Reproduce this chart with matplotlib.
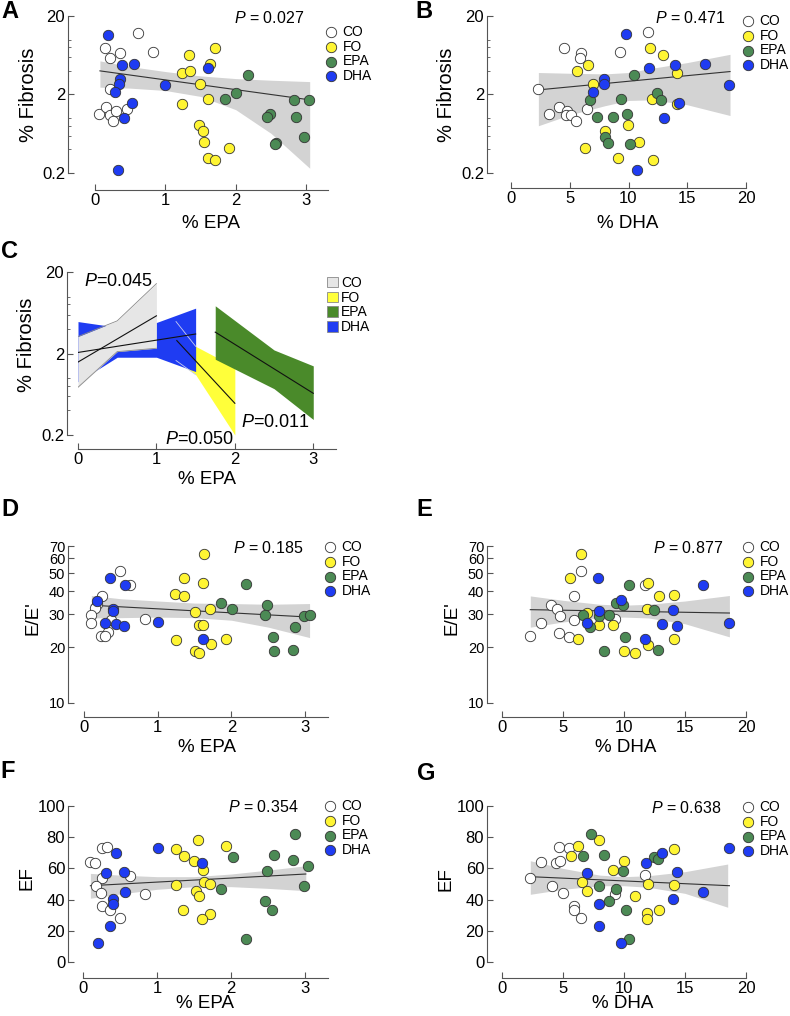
import matplotlib
matplotlib.use("Agg")
import matplotlib.pyplot as plt
from matplotlib.patches import Patch
from matplotlib.ticker import NullFormatter, NullLocator

plt.rcParams['font.family'] = ['Liberation Sans', 'DejaVu Sans']
plt.rcParams['mathtext.fontset'] = 'custom'
plt.rcParams['mathtext.it'] = 'Liberation Sans:italic'
plt.rcParams['mathtext.rm'] = 'Liberation Sans'

groups = ["CO", "FO", "EPA", "DHA"]
dot_colors = {"CO": "#ffffff", "FO": "#fff533", "EPA": "#4c8a55", "DHA": "#1f3cf2"}
band_colors = {"CO": "#e6e6e6", "FO": "#ffff3a", "EPA": "#4a8a2a", "DHA": "#1f3cf2"}

# ---- A: % fibrosis vs % EPA
a_x = dict(CO=[0.61, 0.14, 0.36, 0.22, 0.82, 0.21, 0.06, 0.16, 0.21, 0.30, 0.25, 0.46],
           FO=[1.71, 1.34, 1.63, 1.23, 1.35, 1.49, 1.60, 1.23, 1.48, 1.54, 1.55, 1.91, 1.60, 1.71],
           EPA=[2.18, 2.00, 1.85, 2.83, 3.04, 2.48, 2.44, 2.86, 2.97, 2.57, 2.56],
           DHA=[0.18, 0.38, 0.55, 0.36, 0.34, 0.28, 0.99, 0.53, 0.41, 0.33, 1.60])
a_y = dict(CO=[12.3, 7.9, 6.7, 5.9, 7.0, 2.34, 1.13, 1.37, 1.10, 1.22, 0.92, 1.31],
           FO=[7.9, 6.3, 4.9, 3.8, 4.0, 2.7, 1.75, 1.5, 0.82, 0.68, 0.49, 0.42, 0.31, 0.29],
           EPA=[3.5, 2.08, 1.75, 1.71, 1.69, 1.12, 1.03, 1.04, 0.57, 0.48, 0.47],
           DHA=[11.5, 4.7, 4.9, 3.16, 2.73, 2.18, 2.65, 1.58, 1.0, 0.22, 4.3])
a_fit_x = [0.07, 3.05]
a_fit_y = [4.0, 1.71]
a_band_x = [0.07, 0.5, 1, 1.5, 2, 2.5, 3.05]
a_band_hi = [5.36, 4.54, 3.92, 3.45, 3.19, 3.04, 2.92]
a_band_lo = [2.48, 2.41, 2.25, 1.89, 1.28, 0.64, 0.23]

# ---- B: % fibrosis vs % DHA
b_x = dict(CO=[11.69, 4.51, 5.93, 5.87, 9.28, 2.33, 4.11, 6.5, 3.23, 4.74, 4.68, 5.08, 5.53],
           FO=[11.83, 12.9, 6.52, 5.65, 14.16, 6.95, 11.97, 14.16, 9.93, 8.0, 10.92, 6.3, 9.13, 12.06],
           EPA=[10.5, 12.45, 6.72, 9.33, 12.74, 7.28, 8.71, 9.9, 8.0, 8.28, 10.13],
           DHA=[9.79, 16.51, 13.96, 11.77, 7.94, 7.94, 6.95, 18.58, 14.33, 13.05, 10.75])
b_y = dict(CO=[12.4, 7.9, 6.8, 5.8, 7.0, 2.34, 1.37, 1.31, 1.13, 1.22, 1.10, 1.10, 0.92],
           FO=[7.9, 6.3, 4.76, 4.0, 3.8, 2.7, 1.75, 1.5, 0.82, 0.68, 0.49, 0.42, 0.31, 0.29],
           EPA=[3.5, 2.08, 1.71, 1.75, 1.69, 1.04, 1.03, 1.12, 0.57, 0.48, 0.47],
           DHA=[11.7, 4.9, 4.7, 4.3, 3.16, 2.73, 2.18, 2.65, 1.58, 1.0, 0.22])
b_fit_x = [2.33, 18.64]
b_fit_y = [2.29, 3.92]
b_band_x = [2.33, 5, 8, 10, 12, 15, 18.64]
b_band_hi = [3.81, 3.73, 3.66, 3.81, 4.32, 5.1, 6.5]
b_band_lo = [0.80, 1.10, 1.44, 1.68, 1.71, 1.48, 1.08]

# ---- C: per-group fits of % fibrosis vs % EPA
c_co_x = [0, 0.5, 1]
c_co_lo = [0.77, 2.11, 2.32]
c_co_hi = [3.23, 5.03, 14.4]
c_dha_x = [0, 0.5, 1, 1.5]
c_dha_lo = [0.9, 1.80, 1.80, 1.2]
c_dha_hi = [4.93, 4.2, 4.8, 7.2]
c_fo_x = [1.25, 1.5, 1.75, 2]
c_fo_lo = [1.64, 1.1, 0.47, 0.2]
c_fo_hi = [4.93, 2.45, 1.83, 1.36]
c_epa_x = [1.75, 2.5, 3]
c_epa_lo = [1.70, 0.74, 0.31]
c_epa_hi = [7.7, 2.21, 1.41]
c_lines = dict(CO=([0, 1], [1.57, 5.8]), DHA=([0, 1.5], [2.06, 3.47]),
               FO=([1.26, 2.0], [2.88, 0.49]), EPA=([1.75, 3.0], [3.66, 0.65]))

# ---- D: E/E' vs % EPA
d_x = dict(CO=[0.49, 0.62, 0.25, 0.17, 0.15, 0.10, 0.09, 0.83, 0.36, 0.32, 0.23, 0.28],
           FO=[1.63, 1.35, 1.61, 1.23, 1.35, 1.71, 1.51, 1.56, 1.62, 1.25, 1.93, 1.72, 1.50, 1.56],
           EPA=[2.20, 1.86, 2.01, 2.48, 2.46, 2.98, 3.06, 2.86, 2.56, 2.58, 2.84],
           DHA=[0.35, 0.55, 0.18, 0.39, 0.39, 0.29, 0.43, 0.54, 1.01, 1.61])
d_y = dict(CO=[51.3, 43.0, 37.9, 34.3, 32.5, 29.6, 27.1, 28.2, 28.1, 24.1, 22.9, 23.0],
           FO=[63.7, 47.3, 44.3, 38.5, 37.7, 32.2, 30.9, 26.4, 26.4, 21.9, 22.1, 20.7, 19.1, 18.6],
           EPA=[43.5, 34.5, 31.9, 33.8, 29.9, 29.3, 29.6, 25.6, 22.6, 19.1, 19.2],
           DHA=[47.1, 43.4, 35.4, 32.2, 31.1, 27.1, 26.5, 26.0, 27.3, 22.2])
d_fit_x = [0.10, 3.06]
d_fit_y = [33.6, 29.0]
d_band_x = [0.1, 0.5, 1, 1.5, 2, 2.5, 3.06]
d_band_hi = [37.9, 36.4, 35.4, 34.5, 34.3, 34.0, 34.3]
d_band_lo = [28.7, 28.8, 29.0, 28.8, 27.9, 25.6, 22.5]

# ---- E: E/E' vs % DHA
e_x = dict(CO=[6.47, 5.87, 4.04, 4.50, 4.77, 3.19, 5.87, 9.28, 11.73, 2.32, 4.69, 5.51],
           FO=[6.49, 5.59, 11.94, 12.89, 14.12, 6.96, 11.87, 7.97, 9.09, 6.22, 14.13, 11.94, 9.96, 10.91],
           EPA=[10.45, 9.36, 9.90, 12.47, 6.68, 7.97, 8.73, 7.23, 10.10, 8.32, 12.77],
           DHA=[7.86, 16.51, 9.74, 14.0, 7.91, 6.96, 13.10, 14.32, 18.61, 11.73])
e_y = dict(CO=[51.3, 37.7, 33.6, 32.2, 29.4, 27.1, 28.1, 28.4, 43.4, 22.9, 23.9, 22.7],
           FO=[63.7, 47.1, 44.5, 37.5, 38.3, 30.6, 32.2, 26.2, 26.4, 22.0, 22.0, 20.6, 19.0, 18.6],
           EPA=[43.4, 34.5, 33.8, 31.8, 29.6, 29.3, 29.6, 25.6, 22.6, 19.0, 19.2],
           DHA=[46.8, 43.0, 36.0, 31.8, 31.1, 27.1, 26.5, 26.0, 27.1, 22.2])
e_fit_x = [2.32, 18.64]
e_fit_y = [31.8, 30.5]
e_band_x = [2.32, 5, 8, 10, 12, 15, 18.64]
e_band_hi = [37.7, 35.7, 34.0, 33.6, 34.0, 35.4, 37.9]
e_band_lo = [25.6, 27.3, 28.8, 29.0, 28.7, 26.7, 22.7]

# ---- F: EF vs % EPA
f_x = dict(CO=[0.26, 0.33, 0.09, 0.16, 0.25, 0.18, 0.24, 0.63, 0.84, 0.25, 0.37, 0.50],
           FO=[1.56, 1.93, 1.25, 1.36, 1.50, 1.62, 1.26, 1.63, 1.72, 1.52, 1.57, 1.35, 1.72, 1.61],
           EPA=[2.86, 2.02, 2.58, 2.84, 3.04, 2.99, 2.48, 1.86, 2.46, 2.56, 2.20],
           DHA=[1.01, 0.44, 0.31, 0.56, 0.57, 0.41, 0.40, 0.37, 0.20, 1.61])
f_y = dict(CO=[72.8, 73.4, 64.3, 63.6, 53.6, 48.9, 44.0, 55.1, 43.4, 36.0, 33.4, 28.1],
           FO=[78.1, 74.3, 72.3, 67.9, 64.7, 58.9, 49.4, 51.1, 49.8, 45.5, 42.3, 33.4, 30.9, 27.4],
           EPA=[81.9, 67.0, 68.5, 65.7, 61.7, 48.7, 58.3, 46.6, 39.1, 33.4, 14.7],
           DHA=[72.8, 69.6, 56.8, 57.9, 44.7, 40.2, 37.0, 23.2, 12.1, 63.2])
f_fit_x = [0.10, 3.01]
f_fit_y = [48.9, 56.4]
f_band_x = [0.1, 0.5, 1, 1.5, 2, 2.5, 3.01]
f_band_hi = [56.8, 55.7, 54.7, 54.7, 56.4, 58.9, 61.7]
f_band_lo = [40.9, 43.6, 46.6, 48.3, 48.3, 47.2, 45.7]

# ---- G: EF vs % DHA
g_x = dict(CO=[2.32, 3.22, 4.69, 5.51, 4.45, 4.77, 4.09, 4.97, 5.87, 5.87, 6.47, 9.28, 11.73],
           FO=[7.97, 6.22, 14.13, 5.62, 9.96, 9.09, 6.55, 12.0, 14.13, 6.96, 10.91, 12.9, 11.87, 11.92],
           EPA=[7.29, 8.32, 6.68, 12.5, 12.77, 9.9, 7.97, 9.36, 8.73, 10.15, 10.45],
           DHA=[18.61, 13.1, 11.8, 6.96, 14.32, 7.91, 14.0, 16.51, 7.91, 9.74])
g_y = dict(CO=[53.6, 64.3, 73.4, 73.2, 63.6, 64.7, 48.9, 44.0, 36.0, 33.4, 28.1, 43.4, 55.7],
           FO=[78.5, 74.5, 72.3, 67.9, 64.9, 58.9, 51.1, 49.8, 49.4, 45.7, 42.6, 33.4, 31.3, 27.7],
           EPA=[82.3, 68.9, 67.9, 67.4, 66.0, 58.3, 48.7, 46.6, 39.1, 33.4, 14.7],
           DHA=[72.8, 69.6, 63.2, 56.8, 57.9, 37.0, 40.4, 44.7, 23.2, 12.1])
g_fit_x = [2.32, 18.64]
g_fit_y = [54.7, 48.9]
g_band_x = [2.32, 5, 8, 10, 12, 15, 18.5]
g_band_hi = [64.9, 60.0, 55.7, 54.7, 55.3, 57.9, 62.8]
g_band_lo = [43.4, 46.6, 48.9, 48.9, 47.9, 44.0, 35.1]

W, H = 790, 1016
fig = plt.figure(figsize=(W / 100, H / 100), dpi=100)


def px_axes(l, t, r, b):
    return fig.add_axes([l / W, 1 - b / H, (r - l) / W, (b - t) / H])


def style(ax, left_off, bottom_off):
    for s in ("top", "right"):
        ax.spines[s].set_visible(False)
    ax.spines["left"].set_position(("outward", left_off * 0.72))
    ax.spines["bottom"].set_position(("outward", bottom_off * 0.72))
    for s in ("left", "bottom"):
        ax.spines[s].set_color("#555555")
        ax.spines[s].set_linewidth(0.8)
    ax.tick_params(direction="in", length=4, width=0.8, color="#555555",
                   labelsize=12, pad=2)
    ax.tick_params(which="minor", direction="in", length=2.5, width=0.6, color="#555555")
    ax.tick_params(axis="x", pad=2)


def log_fib(ax):
    ax.set_yscale("log")
    ax.set_ylim(0.2, 20)
    ax.set_yticks([0.2, 2, 20], ["0.2", "2", "20"])
    ax.set_yticks([0.4, 0.6, 0.8, 1.0, 4, 6, 8, 10], minor=True)
    ax.yaxis.set_minor_formatter(NullFormatter())


def log_ee(ax):
    ax.set_yscale("log")
    ax.set_ylim(10, 70)
    ax.set_yticks([10, 20, 30, 40, 50, 60, 70], ["10", "20", "30", "40", "50", "60", "70"])
    ax.yaxis.set_minor_locator(NullLocator())
    ax.tick_params(axis="y", labelsize=10.5)


def scatter_panel(ax, xs, ys, fx, fy, bx, blo, bhi):
    ax.fill_between(bx, blo, bhi, color="#d3d3d3", lw=0, zorder=1)
    ax.plot(fx, fy, color="#333333", lw=0.8, zorder=2)
    for g in groups:
        ax.scatter(xs[g], ys[g], s=56, c=dot_colors[g], edgecolors="#333333",
                   linewidths=0.6, zorder=3, clip_on=False, label=g)


def add_legend(ax, x, y, handles=None):
    kw = dict(loc="upper left", bbox_to_anchor=(x / W, 1 - y / H),
              bbox_transform=fig.transFigure, frameon=False, fontsize=10,
              handletextpad=0.2, labelspacing=0.05, borderpad=0, borderaxespad=0)
    if handles is None:
        ax.legend(handlelength=1.2, **kw)
    else:
        ax.legend(handles=handles, handlelength=0.8, handleheight=0.8, **kw)


def label_at(ax, text, xy_x, xy_y, axis, size=13.5):
    pos = ax.get_position()
    ax_l, ax_b = pos.x0 * W, (1 - pos.y0) * H
    fx = (xy_x - ax_l) / (pos.width * W)
    fy = (ax_b - xy_y) / (pos.height * H)
    if axis == "y":
        ax.set_ylabel(text, fontsize=size)
        ax.yaxis.set_label_coords(fx, fy)
        ax.yaxis.label.set(va="center", ha="center", rotation_mode="anchor")
    else:
        ax.set_xlabel(text, fontsize=size)
        ax.xaxis.set_label_coords(fx, fy)
        ax.xaxis.label.set(va="center", ha="center")


def ptext(x, y, s, size=11.5):
    fig.text(x / W, 1 - y / H, s, fontsize=size, ha="center", va="center")


def letter(x, y, s):
    fig.text(x / W, 1 - y / H, s, fontsize=17, fontweight="bold", ha="center", va="center")


# A
ax = px_axes(95, 16, 328, 173)
style(ax, 27, 17)
log_fib(ax)
ax.set_xlim(0, 3.31)
ax.set_xticks([0, 1, 2, 3])
scatter_panel(ax, a_x, a_y, a_fit_x, a_fit_y, a_band_x, a_band_lo, a_band_hi)
label_at(ax, "% Fibrosis", 28, 95, "y", 14.5)
label_at(ax, "% EPA", 211, 223, "x")
add_legend(ax, 323, 25)
ptext(269, 18, "$P$ = 0.027")
letter(10, 12, "A")

# B
ax = px_axes(511, 16, 746, 173)
style(ax, 24, 15)
log_fib(ax)
ax.set_xlim(0, 20)
ax.set_xticks([0, 5, 10, 15, 20])
scatter_panel(ax, b_x, b_y, b_fit_x, b_fit_y, b_band_x, b_band_lo, b_band_hi)
label_at(ax, "% Fibrosis", 446, 95, "y", 14.5)
label_at(ax, "% DHA", 628, 223, "x")
add_legend(ax, 740, 14)
ptext(690, 18, "$P$ = 0.471")
letter(424, 12, "B")

# C
ax = px_axes(78, 272, 336, 435)
style(ax, 11, 14)
log_fib(ax)
ax.set_xlim(0, 3.29)
ax.set_xticks([0, 1, 2, 3])
ax.fill_between(c_fo_x, c_fo_lo, c_fo_hi, color=band_colors["FO"], lw=0, zorder=1)
ax.fill_between(c_dha_x, c_dha_lo, c_dha_hi, color=band_colors["DHA"], lw=0, zorder=2)
ax.fill_between(c_co_x, c_co_lo, c_co_hi, color=band_colors["CO"], lw=0, zorder=3)
ax.fill_between(c_epa_x, c_epa_lo, c_epa_hi, color=band_colors["EPA"], lw=0, zorder=1)
ax.plot(c_co_x, c_co_lo, color="#8a8a8a", lw=0.6, zorder=4)
ax.plot(c_co_x, c_co_hi, color="#8a8a8a", lw=0.6, zorder=4)
ax.plot(c_fo_x[:2], c_fo_lo[:2], color="#c9cdf0", lw=0.6, zorder=4)
ax.plot(c_fo_x[:2], c_fo_hi[:2], color="#c9cdf0", lw=0.6, zorder=4)
for g in groups:
    lx, ly = c_lines[g]
    ax.plot(lx, ly, color="#111111", lw=0.8, zorder=5)
label_at(ax, "% Fibrosis", 27, 345, "y", 14.5)
label_at(ax, "% EPA", 207, 479, "x")
c_handles = [Patch(facecolor=band_colors[g], edgecolor="#888888", lw=0.6, label=g) for g in groups]
add_legend(ax, 327, 276, handles=c_handles)
ptext(118, 282, "$P$=0.045", 13)
ptext(199, 440, "$P$=0.050", 13)
ptext(275, 423, "$P$=0.011", 13)
letter(9, 251, "C")

# D
ax = px_axes(84, 546, 328, 703)
style(ax, 16, 14)
log_ee(ax)
ax.set_xlim(0, 3.31)
ax.set_xticks([0, 1, 2, 3])
scatter_panel(ax, d_x, d_y, d_fit_x, d_fit_y, d_band_x, d_band_lo, d_band_hi)
label_at(ax, "E/E'", 33, 618, "y")
label_at(ax, "% EPA", 207, 747, "x")
add_legend(ax, 322, 540)
ptext(268, 548, "$P$ = 0.185")
letter(10, 509, "D")

# E
ax = px_axes(502, 546, 746, 703)
style(ax, 15, 14)
log_ee(ax)
ax.set_xlim(0, 20)
ax.set_xticks([0, 5, 10, 15, 20])
scatter_panel(ax, e_x, e_y, e_fit_x, e_fit_y, e_band_x, e_band_lo, e_band_hi)
label_at(ax, "E/E'", 452, 618, "y")
label_at(ax, "% DHA", 626, 747, "x")
add_legend(ax, 740, 540)
ptext(688, 548, "$P$ = 0.877")
letter(424, 510, "E")

# F
ax = px_axes(83, 806, 328, 962)
style(ax, 15, 16)
ax.set_ylim(0, 100)
ax.set_yticks([0, 20, 40, 60, 80, 100])
ax.set_xlim(0, 3.31)
ax.set_xticks([0, 1, 2, 3])
scatter_panel(ax, f_x, f_y, f_fit_x, f_fit_y, f_band_x, f_band_lo, f_band_hi)
label_at(ax, "EF", 27, 878, "y")
label_at(ax, "% EPA", 205, 1004, "x")
add_legend(ax, 322, 799)
ptext(263, 807, "$P$ = 0.354")
letter(8, 771, "F")

# G
ax = px_axes(502, 806, 746, 962)
style(ax, 15, 16)
ax.set_ylim(0, 100)
ax.set_yticks([0, 20, 40, 60, 80, 100])
ax.set_xlim(0, 20)
ax.set_xticks([0, 5, 10, 15, 20])
scatter_panel(ax, g_x, g_y, g_fit_x, g_fit_y, g_band_x, g_band_lo, g_band_hi)
label_at(ax, "EF", 446, 879, "y")
label_at(ax, "% DHA", 623, 1004, "x")
add_legend(ax, 740, 800)
ptext(686, 808, "$P$ = 0.638")
letter(426, 773, "G")

fig.savefig("out.png", dpi=100)
